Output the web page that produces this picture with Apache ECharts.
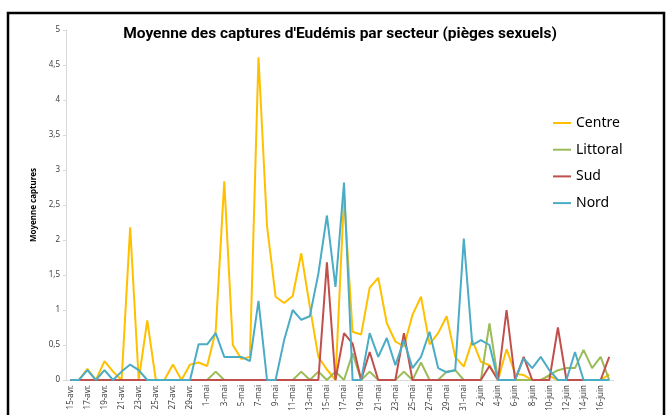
<!DOCTYPE html>
<html style="height: 100%">
<head>
<meta charset="utf-8">
<script type="text/javascript" src="https://cdn.jsdelivr.net/npm/echarts@6/dist/echarts.min.js"></script>
</head>
<body style="height: 100%; margin: 0; background: #fff">
<div id="container" style="width: 668px; height: 415px"></div>
<script type="text/javascript">
var dates = [
  '15-avr.','16-avr.','17-avr.','18-avr.','19-avr.','20-avr.','21-avr.','22-avr.','23-avr.','24-avr.',
  '25-avr.','26-avr.','27-avr.','28-avr.','29-avr.','30-avr.',
  '1-mai','2-mai','3-mai','4-mai','5-mai','6-mai','7-mai','8-mai','9-mai','10-mai',
  '11-mai','12-mai','13-mai','14-mai','15-mai','16-mai','17-mai','18-mai','19-mai','20-mai',
  '21-mai','22-mai','23-mai','24-mai','25-mai','26-mai','27-mai','28-mai','29-mai','30-mai','31-mai',
  '1-juin','2-juin','3-juin','4-juin','5-juin','6-juin','7-juin','8-juin','9-juin','10-juin',
  '11-juin','12-juin','13-juin','14-juin','15-juin','16-juin','17-juin'
];
// moyennes par secteur
var centre = [0,0,0.16,0,0.27,0.12,0,2.18,0,0.85,
  0,0,0.22,0,0.22,0.25,0.2,0.7,2.84,0.5,
  0.3,0.33,4.61,2.2,1.19,1.1,1.2,1.81,1.05,0.33,
  0.15,0,2.62,0.69,0.65,1.32,1.46,0.81,0.55,0.48,
  0.93,1.19,0.51,0.67,0.91,0.33,0.19,0.57,0.26,0.21,
  0,0.44,0.09,0.07,0,0,0.06,0,0,0,
  0,0,0,0.08];
var littoral = [0,0,0,0,0,0,0,0,0,0,
  0,0,0,0,0,0,0,0.12,0,0,
  0,0,0,0,0,0,0,0.12,0,0.12,
  0,0.12,0,0.38,0,0.12,0,0,0,0.12,
  0,0.25,0,0,0.12,0.14,0,0,0,0.81,
  0,0,0,0,0,0,0.07,0.14,0.17,0.17,
  0.43,0.17,0.33,0];
var sud = [0,0,0,0,0,0,0,0,0,0,
  0,0,0,0,0,0,0,0,0,0,
  0,0,0,0,0,0,0,0,0,0,
  1.68,0,0.67,0.52,0,0.4,0,0,0,0.67,
  0,0,0,0,0,0,0,0,0,0.2,
  0,1.0,0,0.33,0,0,0,0.75,0,0,
  0,0,0,0.33];
var nord = [0,0,0.14,0,0.14,0,0.12,0.22,0.14,0,
  0,0,0,0,0,0.51,0.51,0.67,0.33,0.33,
  0.33,0.27,1.13,0,0,0.57,1.0,0.86,0.91,1.52,
  2.35,1.33,2.82,0,0,0.67,0.33,0.6,0.21,0.57,
  0.17,0.33,0.69,0.17,0.11,0.14,2.02,0.5,0.57,0.5,
  0,0,0,0.31,0.17,0.33,0.14,0,0,0.4,
  0,0,0,0];
var names = ['Centre', 'Littoral', 'Sud', 'Nord'];
var colors = ['#FFC000', '#9BBB59', '#C0504D', '#4BACC6'];
var values = [centre, littoral, sud, nord];

var myChart = echarts.init(document.getElementById('container'));
var series = [];
for (var i = 0; i < names.length; i++) {
  series.push({
    name: names[i], type: 'line', data: values[i],
    symbol: 'none', smooth: false,
    lineStyle: { width: 2, color: colors[i] },
    itemStyle: { color: colors[i] }
  });
}
var option = {
  backgroundColor: '#fff',
  animation: false,
  graphic: [
    { type: 'rect', shape: { x: 8, y: 13, width: 656, height: 430 },
      style: { fill: 'none', stroke: '#000', lineWidth: 2.5 }, z: 100 },
    { type: 'text', x: 340, y: 34,
      style: { text: "Moyenne des captures d'Eudémis par secteur (pièges sexuels)",
        font: 'bold 15.5px Roboto', fill: '#000', textAlign: 'center', textVerticalAlign: 'middle' } }
  ],
  legend: {
    orient: 'vertical', left: 548, top: 111,
    itemWidth: 18, itemHeight: 14, itemGap: 12.7,
    icon: 'path://M0,6 L18,6 L18,8 L0,8 Z',
    textStyle: { fontSize: 14, fontFamily: 'Noto Sans', color: '#000' },
    data: names
  },
  grid: { left: 66, right: 54.5, top: 30, bottom: 35 },
  xAxis: {
    type: 'category', data: dates, boundaryGap: true,
    axisLine: { lineStyle: { color: '#d9d9d9' } },
    axisTick: { interval: 1, length: 4, lineStyle: { color: '#d9d9d9' } },
    axisLabel: { interval: 1, rotate: 90, fontSize: 8, color: '#404040', fontFamily: 'Noto Sans', margin: 5 }
  },
  yAxis: {
    type: 'value', min: 0, max: 5, interval: 0.5,
    name: 'Moyenne captures', nameLocation: 'middle', nameRotate: 90, nameGap: 19,
    nameTextStyle: { fontSize: 8, fontWeight: 'bold', color: '#000', fontFamily: 'Noto Sans' },
    axisLine: { show: true, lineStyle: { color: '#d9d9d9' } },
    axisTick: { show: true, length: 3, lineStyle: { color: '#d9d9d9' } },
    splitLine: { show: false },
    axisLabel: { fontSize: 8, color: '#404040', fontFamily: 'Noto Sans', margin: 6,
      formatter: function (v) { return String(v).replace('.', ','); } }
  },
  series: series
};
myChart.setOption(option);
</script>
</body>
</html>
